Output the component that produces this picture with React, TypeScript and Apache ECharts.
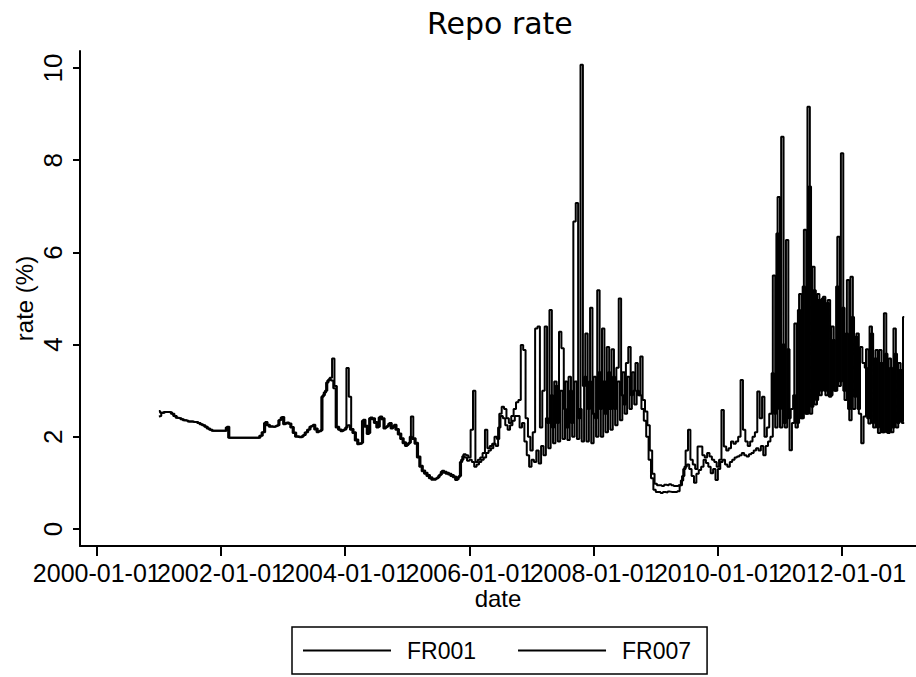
import React, { useEffect, useRef } from "react";
import * as echarts from "echarts";

// Fortnightly observations starting January 2001 (26 per year)
const START_YEAR = 2001;
const OBS_PER_YEAR = 26;

const fr001: number[] = [
  2.44, 2.45, 2.52, 2.54, 2.54, 2.53, 2.50, 2.45, 2.41, 2.40,
  2.38, 2.36, 2.35, 2.33, 2.33, 2.32, 2.32, 2.30, 2.27, 2.25,
  2.22, 2.18, 2.15, 2.13, 2.13, 2.13, 2.13, 2.13, 2.13, 2.20,
  1.98, 1.98, 1.98, 1.98, 1.98, 1.98, 1.98, 1.98, 1.98, 1.98,
  1.98, 1.98, 1.98, 2.02, 2.10, 2.30, 2.25, 2.22, 2.22, 2.22,
  2.24, 2.36, 2.42, 2.27, 2.30, 2.28, 2.20, 2.08, 2.00, 1.99,
  1.99, 2.03, 2.09, 2.15, 2.22, 2.24, 2.16, 2.10, 2.12, 2.87,
  2.96, 3.18, 3.25, 3.22, 3.05, 2.20, 2.15, 2.12, 2.15, 2.20,
  2.25, 2.15, 2.08, 1.92, 1.84, 1.85, 2.35, 2.22, 2.06, 2.40,
  2.38, 2.30, 2.20, 2.42, 2.38, 2.18, 2.22, 2.28, 2.18, 2.24,
  2.15, 2.05, 1.95, 1.86, 1.80, 1.85, 2.00, 1.95, 1.85, 1.55,
  1.35, 1.25, 1.20, 1.15, 1.10, 1.07, 1.07, 1.10, 1.16, 1.24,
  1.22, 1.20, 1.18, 1.15, 1.12, 1.06, 1.12, 1.45, 1.58, 1.55,
  1.48, 1.50, 1.45, 1.35, 1.40, 1.45, 1.50, 1.55, 1.65, 1.70,
  1.75, 1.85, 1.80, 2.20, 2.45, 2.40, 2.25, 2.15, 2.25, 2.35,
  2.45, 2.45, 2.20, 2.30, 1.90, 1.60, 1.35, 1.50, 1.45, 1.70,
  1.42, 1.80, 1.60, 2.40, 1.75, 2.90, 1.86, 3.10, 1.90, 3.00,
  1.95, 3.20, 1.93, 3.00, 2.00, 3.20, 1.95, 2.60, 1.90, 3.30,
  1.90, 3.20, 1.86, 3.30, 2.00, 3.40, 2.00, 3.20, 2.10, 3.40,
  2.15, 3.30, 2.25, 3.20, 2.36, 3.40, 2.50, 3.30, 2.60, 3.40,
  2.70, 3.00, 2.90, 2.60, 2.35, 2.00, 1.50, 1.10, 0.85, 0.80,
  0.80, 0.78, 0.80, 0.79, 0.81, 0.80, 0.80, 0.80, 0.82, 0.95,
  1.15, 1.35, 1.40, 1.30, 1.15, 1.00, 1.20, 1.28, 1.35, 1.50,
  1.43, 1.35, 1.21, 1.30, 1.06, 1.30, 1.45, 1.50, 1.40, 1.35,
  1.45, 1.50, 1.55, 1.57, 1.60, 1.65, 1.60, 1.57, 1.62, 1.65,
  1.70, 1.75, 1.70, 1.80, 1.60, 1.80, 1.90, 2.00, 5.50, 2.20,
  7.20, 2.20, 4.00, 2.20, 3.90, 1.71, 2.30, 4.46, 2.30, 5.10,
  2.40, 6.49, 2.50, 7.43, 2.65, 5.18, 2.80, 4.97, 3.00, 5.04,
  2.90, 4.97, 2.90, 4.10, 3.00, 6.34, 3.20, 4.80, 2.80, 5.40,
  2.36, 4.60, 2.87, 4.24, 2.50, 1.86, 2.44, 3.90, 2.29, 4.24,
  2.20, 3.88, 2.08, 3.60, 2.10, 3.80, 2.08, 3.50, 2.20, 3.80,
  2.30, 3.45, 2.30,
];

const fr007: number[] = [
  2.56, 2.52, 2.52, 2.54, 2.54, 2.53, 2.50, 2.45, 2.41, 2.40,
  2.38, 2.36, 2.35, 2.33, 2.33, 2.32, 2.32, 2.30, 2.27, 2.25,
  2.22, 2.18, 2.15, 2.13, 2.13, 2.13, 2.13, 2.13, 2.13, 2.22,
  1.98, 1.98, 1.98, 1.98, 1.98, 1.98, 1.98, 1.98, 1.98, 1.98,
  1.98, 1.98, 1.98, 2.02, 2.10, 2.32, 2.26, 2.23, 2.22, 2.23,
  2.25, 2.37, 2.43, 2.28, 2.31, 2.29, 2.21, 2.09, 2.01, 2.00,
  2.00, 2.04, 2.10, 2.16, 2.23, 2.26, 2.18, 2.12, 2.14, 2.90,
  3.00, 3.22, 3.28, 3.70, 3.10, 2.22, 2.16, 2.13, 2.16, 3.49,
  2.87, 2.17, 2.10, 1.94, 1.86, 1.87, 2.37, 2.24, 2.08, 2.42,
  2.40, 2.32, 2.22, 2.44, 2.40, 2.20, 2.24, 2.30, 2.20, 2.26,
  2.17, 2.07, 1.97, 1.88, 1.82, 1.87, 2.44, 1.97, 1.87, 1.57,
  1.37, 1.27, 1.22, 1.17, 1.12, 1.09, 1.09, 1.12, 1.18, 1.26,
  1.24, 1.22, 1.20, 1.17, 1.14, 1.08, 1.15, 1.50, 1.62, 1.60,
  1.55, 2.15, 3.00, 1.45, 1.50, 1.55, 1.65, 2.15, 1.75, 1.80,
  1.85, 2.00, 1.95, 2.50, 2.65, 2.60, 2.40, 2.30, 2.45, 2.60,
  2.75, 2.80, 3.99, 3.88, 2.40, 2.00, 1.70, 2.10, 4.35, 4.39,
  2.20, 3.00, 4.39, 2.30, 4.75, 2.20, 3.20, 2.30, 4.28, 3.92,
  2.60, 2.20, 3.30, 2.30, 6.67, 7.07, 2.40, 10.07, 3.10, 4.24,
  2.60, 4.80, 2.50, 2.40, 5.18, 2.60, 4.35, 2.50, 3.95, 2.60,
  3.90, 2.60, 3.50, 5.00, 2.90, 2.70, 3.60, 3.95, 2.90, 3.00,
  3.60, 2.90, 3.74, 2.80, 2.55, 2.25, 1.70, 1.20, 0.98, 0.95,
  0.95, 0.93, 0.96, 0.95, 0.97, 0.95, 0.93, 0.93, 0.95, 1.05,
  1.30, 1.70, 2.15, 1.50, 1.40, 1.30, 1.79, 1.79, 1.60, 1.55,
  1.65, 1.57, 1.50, 1.45, 1.35, 1.50, 2.58, 1.79, 1.70, 1.75,
  1.90, 1.85, 1.90, 2.00, 3.23, 2.15, 1.90, 1.80, 1.90, 2.00,
  2.10, 2.98, 2.40, 2.87, 2.00, 2.20, 2.50, 3.38, 2.50, 6.41,
  2.60, 8.51, 2.30, 6.27, 2.40, 2.60, 2.90, 2.20, 4.75, 2.40,
  5.26, 2.50, 9.16, 2.50, 5.69, 2.70, 5.10, 2.90, 5.00, 3.00,
  4.90, 2.87, 4.39, 3.00, 5.26, 3.10, 8.15, 3.00, 4.24, 2.60,
  5.47, 2.60, 4.17, 2.60, 3.95, 3.60, 3.50, 2.40, 4.39, 2.30,
  3.70, 2.20, 3.88, 2.10, 4.68, 2.10, 3.70, 2.10, 4.35, 2.20,
  3.60, 2.33, 4.60,
];

const xTickYears = [2000, 2002, 2004, 2006, 2008, 2010, 2012];
const yTickValues = [0, 2, 4, 6, 8, 10];
const seriesNames = ["FR001", "FR007"];

const SANS = "'Liberation Sans', Arial, sans-serif";
const X_MIN = 1999.73;
const X_MAX = 2013.19;

export default function App() {
  const ref = useRef<HTMLDivElement>(null);

  useEffect(() => {
    document.body.style.margin = "0";
    const chart = echarts.init(ref.current!, null, { renderer: "svg" });
    const toPairs = (vals: number[]) =>
      vals.map((v, i) => [START_YEAR + i / OBS_PER_YEAR, v]);

    // tick labels overlap in the original; split them over two stacked axes
    const evenLabels = xTickYears.filter((_, i) => i % 2 === 0);
    const oddLabels = xTickYears.filter((_, i) => i % 2 === 1);

    const labelStyle = {
      formatter: (v: number) => `${v}-01-01`,
      showMinLabel: true,
      showMaxLabel: true,
      hideOverlap: false,
      margin: 15,
      fontSize: 25,
      lineHeight: 24,
      fontFamily: SANS,
      color: "#000",
    };

    const lineSeries = (name: string, vals: number[], step: string) => ({
      name,
      type: "line",
      data: toPairs(vals),
      step,
      symbol: "none",
      showSymbol: false,
      lineStyle: { color: "#000", width: 2 },
      itemStyle: { color: "#000" },
      emphasis: { disabled: true },
    });

    chart.setOption({
      animation: false,
      backgroundColor: "#fff",
      title: {
        text: "Repo rate",
        left: 422,
        top: 3,
        textStyle: {
          fontFamily: "'DejaVu Sans', sans-serif",
          fontSize: 30,
          fontWeight: "normal",
          color: "#000",
        },
      },
      grid: { left: 80, right: 0, top: 51, bottom: 131 },
      xAxis: [
        {
          type: "value",
          min: X_MIN,
          max: X_MAX,
          axisLine: { show: true, onZero: false, lineStyle: { color: "#000", width: 2 } },
          axisTick: {
            show: true,
            length: 10,
            customValues: xTickYears,
            lineStyle: { color: "#000", width: 2 },
          },
          axisLabel: { ...labelStyle, customValues: evenLabels },
          splitLine: { show: false },
          name: "date",
          nameLocation: "middle",
          nameGap: 41,
          nameMoveOverlap: false,
          nameTextStyle: { fontSize: 24, lineHeight: 22, fontFamily: SANS, color: "#000" },
        },
        {
          type: "value",
          position: "bottom",
          min: X_MIN,
          max: X_MAX,
          axisLine: { show: false, onZero: false },
          axisTick: { show: false },
          axisLabel: { ...labelStyle, customValues: oddLabels },
          splitLine: { show: false },
        },
      ],
      yAxis: {
        type: "value",
        min: -0.37,
        max: 10.37,
        axisLine: { show: true, onZero: false, lineStyle: { color: "#000", width: 2 } },
        axisTick: {
          show: true,
          length: 7,
          customValues: yTickValues,
          lineStyle: { color: "#000", width: 2 },
        },
        axisLabel: {
          customValues: yTickValues,
          showMinLabel: true,
          showMaxLabel: true,
          rotate: 90,
          margin: 14,
          fontSize: 26,
          fontFamily: SANS,
          color: "#000",
        },
        splitLine: { show: false },
        name: "rate (%)",
        nameLocation: "middle",
        nameGap: 44,
        nameMoveOverlap: false,
        nameTextStyle: { fontSize: 24, fontFamily: SANS, color: "#000" },
      },
      legend: {
        data: seriesNames,
        left: 292,
        top: 627,
        orient: "horizontal",
        icon: "rect",
        itemWidth: 88,
        itemHeight: 2,
        itemGap: 42,
        padding: [12, 16, 12, 11],
        borderColor: "#000",
        borderWidth: 1.5,
        itemStyle: { color: "#000" },
        textStyle: {
          fontSize: 23,
          fontFamily: SANS,
          color: "#000",
          padding: [0, 0, 0, 11],
        },
      },
      series: [
        lineSeries(seriesNames[0], fr001, "start"),
        lineSeries(seriesNames[1], fr007, "middle"),
      ],
    });

    return () => chart.dispose();
  }, []);

  return <div ref={ref} style={{ width: 916, height: 677 }} />;
}
